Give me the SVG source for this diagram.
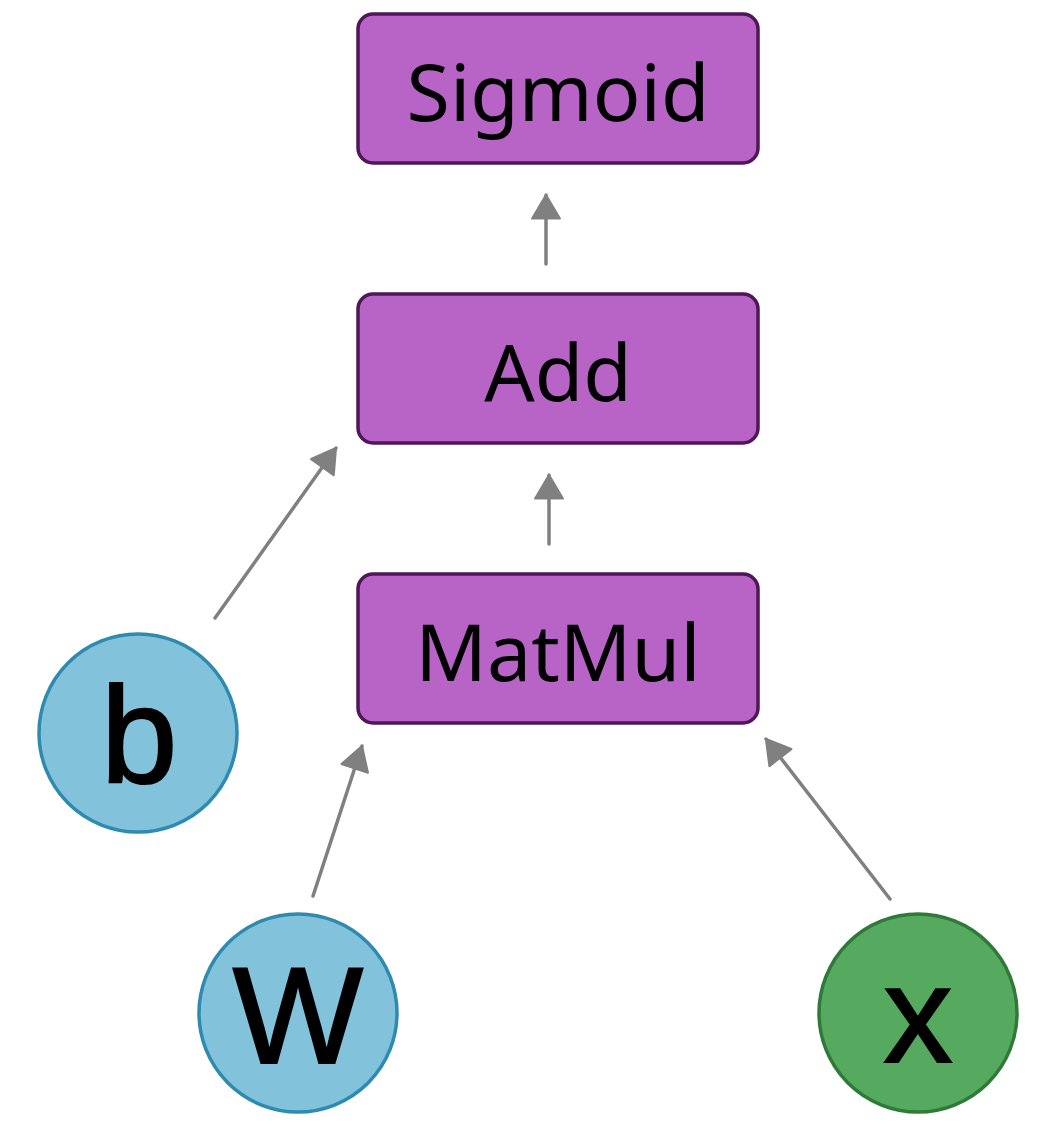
<svg xmlns="http://www.w3.org/2000/svg" width="1058" height="1126" viewBox="0 0 1058 1126">
<style>
.op rect{fill:#b864c6;stroke:#4f1658;stroke-width:3.5}
.op text{font-family:"Noto Sans","Open Sans",sans-serif;font-size:79px;fill:#000;text-anchor:middle}
.var circle{stroke-width:3.5}
.blue circle{fill:#83c2db;stroke:#2e8aaf}
.green circle{fill:#55aa60;stroke:#2f7a38}
.var text{font-family:"Liberation Sans",Arial,sans-serif;font-size:138px;fill:#000;stroke:#000;stroke-width:2;text-anchor:middle}
.edges line{stroke:#808080;stroke-width:3.5;stroke-linecap:round;marker-end:url(#ah)}
</style>
<defs>
<marker id="ah" markerUnits="userSpaceOnUse" markerWidth="30" markerHeight="32" refX="22" refY="13" orient="auto" viewBox="-2 -2 28 30">
<path d="M0,0 L22,13 L0,26 Z" fill="#808080" stroke="#808080" stroke-width="2" stroke-linejoin="round"/>
</marker>
</defs>
<g id="edges" class="edges">
<line x1="546" y1="264" x2="546" y2="195"/>
<line x1="549" y1="544" x2="549" y2="475"/>
<line x1="215" y1="618" x2="336" y2="448"/>
<line x1="313" y1="896" x2="362" y2="746"/>
<line x1="890" y1="899" x2="766" y2="739"/>
</g>
<g id="sigmoid" class="op"><rect x="358" y="14" width="400" height="149" rx="15"/><text x="558" y="121">Sigmoid</text></g>
<g id="add" class="op"><rect x="358" y="294" width="400" height="149" rx="15"/><text x="558" y="401">Add</text></g>
<g id="matmul" class="op"><rect x="358" y="574" width="400" height="149" rx="15"/><text x="558" y="681">MatMul</text></g>
<g id="b" class="var blue"><circle cx="138" cy="733" r="99"/><text x="139" y="783">b</text></g>
<g id="W" class="var blue"><circle cx="298" cy="1013" r="99"/><text x="298" y="1063">W</text></g>
<g id="x" class="var green"><circle cx="918" cy="1013" r="99"/><text x="918" y="1062">x</text></g>
</svg>
